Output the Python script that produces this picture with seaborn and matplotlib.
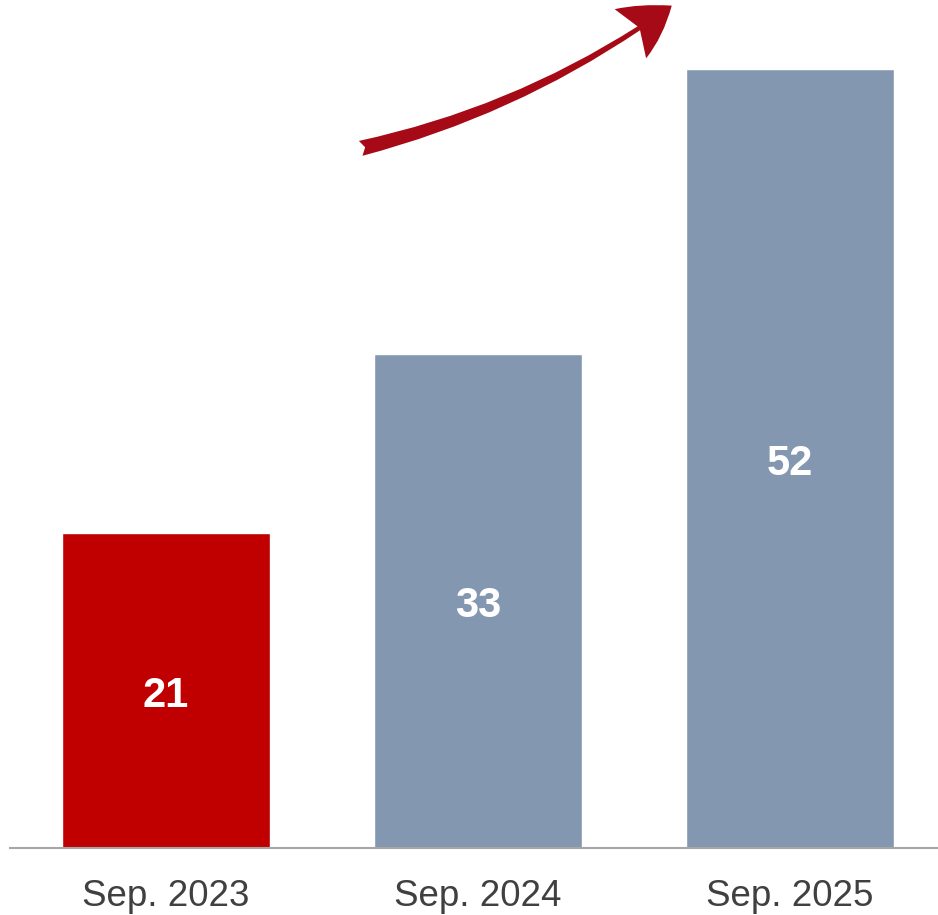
import matplotlib
matplotlib.use("Agg")
import matplotlib.pyplot as plt
import seaborn as sns
import pandas as pd
from matplotlib.patches import FancyArrowPatch

categories = ["Sep. 2023", "Sep. 2024", "Sep. 2025"]
values = [21, 33, 52]
bar_colors = ["#C00000", "#8497B0", "#8497B0"]

sns.set_theme(style="white")
plt.rcParams['font.family'] = ['Liberation Sans', 'DejaVu Sans']

df = pd.DataFrame({"period": categories, "value": values})

fig = plt.figure(figsize=(9.38, 9.15), dpi=100)
ax = fig.add_axes([10/938, 67/915, 928/938, 848/915])

sns.barplot(data=df, x="period", y="value", hue="period",
            palette=dict(zip(categories, bar_colors)), width=0.667,
            saturation=1, legend=False, ax=ax)

ax.set_xlim(-0.5, 2.474)
ax.set_ylim(0, 56.6)
for s in ["top", "right", "left"]:
    ax.spines[s].set_visible(False)
ax.spines["bottom"].set_color("#A6A6A6")
ax.spines["bottom"].set_linewidth(1.5)
ax.set_yticks([])
ax.set_xlabel("")
ax.set_ylabel("")
ax.tick_params(axis="x", length=0, pad=22, labelsize=26.5, labelcolor="#404040")

for i, v in enumerate(values):
    ax.annotate(str(v), (i, v / 2), xytext=(0, -4), textcoords="offset points",
                ha="center", va="center", color="white",
                fontsize=30, fontweight="bold")

arrow = FancyArrowPatch((358/938, 1 - 149/915), (674/938, 1 - 4/915),
                        transform=fig.transFigure,
                        connectionstyle="arc3,rad=0.1",
                        arrowstyle="fancy,head_length=1.8,head_width=2.1,tail_width=0.55",
                        mutation_scale=20, color="#A50A16", lw=0)
fig.patches.append(arrow)

fig.savefig("out.png", dpi=100)
